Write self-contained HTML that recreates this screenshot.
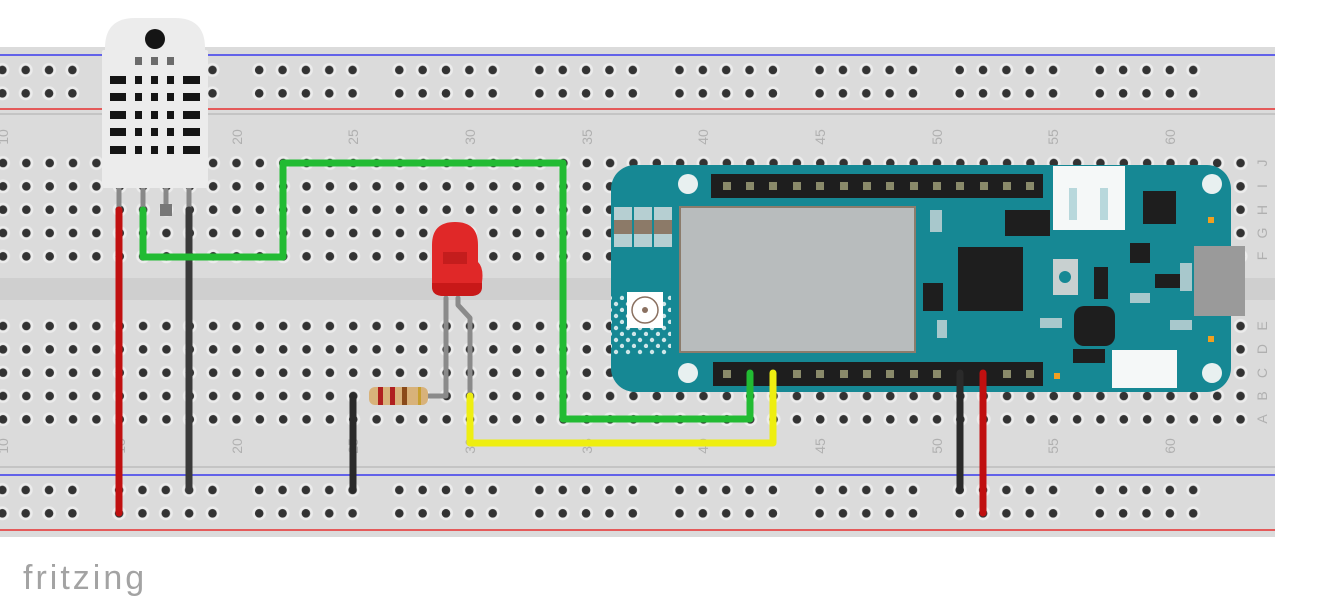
<!DOCTYPE html>
<html><head><meta charset="utf-8"><style>
html,body{margin:0;padding:0;background:#fff;width:1320px;height:604px;overflow:hidden}
svg{display:block}
text{font-family:"Liberation Sans",sans-serif}
</style></head><body>
<svg width="1320" height="604" viewBox="0 0 1320 604" xmlns="http://www.w3.org/2000/svg">
<defs>
<pattern id="mh" patternUnits="userSpaceOnUse" x="-8.675" y="151.33" width="23.35" height="23.33">
<circle cx="11.675" cy="11.67" r="7" fill="#ececec"/><circle cx="11.675" cy="11.67" r="4.3" fill="#333"/>
</pattern>
<pattern id="mh2" patternUnits="userSpaceOnUse" x="-8.675" y="314.33" width="23.35" height="23.33">
<circle cx="11.675" cy="11.67" r="7" fill="#ececec"/><circle cx="11.675" cy="11.67" r="4.3" fill="#333"/>
</pattern>
<pattern id="rh" patternUnits="userSpaceOnUse" x="-32.675" y="58.3" width="140.1" height="23.33">
<g fill="#ececec"><circle cx="11.675" cy="11.67" r="7"/><circle cx="35.025" cy="11.67" r="7"/><circle cx="58.375" cy="11.67" r="7"/><circle cx="81.725" cy="11.67" r="7"/><circle cx="105.075" cy="11.67" r="7"/></g>
<g fill="#333"><circle cx="11.675" cy="11.67" r="4.3"/><circle cx="35.025" cy="11.67" r="4.3"/><circle cx="58.375" cy="11.67" r="4.3"/><circle cx="81.725" cy="11.67" r="4.3"/><circle cx="105.075" cy="11.67" r="4.3"/></g>
</pattern>
<pattern id="rh2" patternUnits="userSpaceOnUse" x="-32.675" y="478.3" width="140.1" height="23.33">
<g fill="#ececec"><circle cx="11.675" cy="11.67" r="7"/><circle cx="35.025" cy="11.67" r="7"/><circle cx="58.375" cy="11.67" r="7"/><circle cx="81.725" cy="11.67" r="7"/><circle cx="105.075" cy="11.67" r="7"/></g>
<g fill="#333"><circle cx="11.675" cy="11.67" r="4.3"/><circle cx="35.025" cy="11.67" r="4.3"/><circle cx="58.375" cy="11.67" r="4.3"/><circle cx="81.725" cy="11.67" r="4.3"/><circle cx="105.075" cy="11.67" r="4.3"/></g>
</pattern>
<pattern id="dots" patternUnits="userSpaceOnUse" width="12" height="12"><circle cx="4" cy="4" r="2.2" fill="#cfe6e8"/><circle cx="10" cy="10" r="2.2" fill="#cfe6e8"/></pattern>
</defs>

<rect x="0" y="47" width="1275" height="490" fill="#dbdbdb"/>
<line x1="0" y1="55" x2="1275" y2="55" stroke="#3a3aee" stroke-width="1.5"/>
<line x1="0" y1="109" x2="1275" y2="109" stroke="#e83030" stroke-width="1.5"/>
<line x1="0" y1="114" x2="1275" y2="114" stroke="#bdbdbd" stroke-width="1.5"/>
<line x1="0" y1="467" x2="1275" y2="467" stroke="#bdbdbd" stroke-width="1.5"/>
<line x1="0" y1="475" x2="1275" y2="475" stroke="#3a3aee" stroke-width="1.5"/>
<line x1="0" y1="530" x2="1275" y2="530" stroke="#e83030" stroke-width="1.5"/>
<rect x="0" y="278" width="1275" height="22" fill="#cfcfcf"/>
<rect x="-20" y="151.3" width="1272" height="116.7" fill="url(#mh)"/>
<rect x="-20" y="314.3" width="1272" height="116.7" fill="url(#mh2)"/>
<rect x="-20" y="58.3" width="1224" height="46.7" fill="url(#rh)"/>
<rect x="-20" y="478.3" width="1224" height="46.7" fill="url(#rh2)"/>

<g fill="#b0b0b0" font-size="14" text-anchor="middle">
<text transform="translate(3,137) rotate(-90)" dy="5">10</text>
<text transform="translate(120,137) rotate(-90)" dy="5">15</text>
<text transform="translate(237,137) rotate(-90)" dy="5">20</text>
<text transform="translate(353,137) rotate(-90)" dy="5">25</text>
<text transform="translate(470,137) rotate(-90)" dy="5">30</text>
<text transform="translate(587,137) rotate(-90)" dy="5">35</text>
<text transform="translate(703,137) rotate(-90)" dy="5">40</text>
<text transform="translate(820,137) rotate(-90)" dy="5">45</text>
<text transform="translate(937,137) rotate(-90)" dy="5">50</text>
<text transform="translate(1053,137) rotate(-90)" dy="5">55</text>
<text transform="translate(1170,137) rotate(-90)" dy="5">60</text>
<text transform="translate(3,446) rotate(-90)" dy="5">10</text>
<text transform="translate(120,446) rotate(-90)" dy="5">15</text>
<text transform="translate(237,446) rotate(-90)" dy="5">20</text>
<text transform="translate(353,446) rotate(-90)" dy="5">25</text>
<text transform="translate(470,446) rotate(-90)" dy="5">30</text>
<text transform="translate(587,446) rotate(-90)" dy="5">35</text>
<text transform="translate(703,446) rotate(-90)" dy="5">40</text>
<text transform="translate(820,446) rotate(-90)" dy="5">45</text>
<text transform="translate(937,446) rotate(-90)" dy="5">50</text>
<text transform="translate(1053,446) rotate(-90)" dy="5">55</text>
<text transform="translate(1170,446) rotate(-90)" dy="5">60</text>
<text transform="translate(1262,163) rotate(-90)" dy="5">J</text>
<text transform="translate(1262,186) rotate(-90)" dy="5">I</text>
<text transform="translate(1262,210) rotate(-90)" dy="5">H</text>
<text transform="translate(1262,233) rotate(-90)" dy="5">G</text>
<text transform="translate(1262,256) rotate(-90)" dy="5">F</text>
<text transform="translate(1262,326) rotate(-90)" dy="5">E</text>
<text transform="translate(1262,349) rotate(-90)" dy="5">D</text>
<text transform="translate(1262,373) rotate(-90)" dy="5">C</text>
<text transform="translate(1262,396) rotate(-90)" dy="5">B</text>
<text transform="translate(1262,419) rotate(-90)" dy="5">A</text>
</g>

<rect x="611" y="165" width="620" height="227" rx="24" fill="#168894"/>
<rect x="611" y="295" width="60" height="60" fill="url(#dots)"/>
<g fill="#b6cfd2"><rect x="614" y="207" width="18" height="40"/><rect x="634" y="207" width="18" height="40"/><rect x="654" y="207" width="18" height="40"/></g>
<g fill="#8c7a68"><rect x="614" y="220" width="18" height="14"/><rect x="634" y="220" width="18" height="14"/><rect x="654" y="220" width="18" height="14"/></g>
<rect x="627" y="292" width="36" height="36" fill="#fff"/>
<circle cx="645" cy="310" r="13" fill="none" stroke="#8a7060" stroke-width="1.5"/><circle cx="645" cy="310" r="3" fill="#8a7060"/>
<g fill="#e8f0f0"><circle cx="688" cy="184" r="10"/><circle cx="688" cy="373" r="10"/><circle cx="1212" cy="184" r="10"/><circle cx="1212" cy="373" r="10"/></g>
<rect x="711" y="174" width="332" height="24" fill="#1e1e1e"/>
<rect x="713" y="362" width="330" height="24" fill="#1e1e1e"/>
<g fill="#8a8a6a">
<rect x="723" y="182" width="8" height="8"/><rect x="746" y="182" width="8" height="8"/><rect x="769" y="182" width="8" height="8"/><rect x="793" y="182" width="8" height="8"/><rect x="816" y="182" width="8" height="8"/><rect x="840" y="182" width="8" height="8"/><rect x="863" y="182" width="8" height="8"/><rect x="886" y="182" width="8" height="8"/><rect x="910" y="182" width="8" height="8"/><rect x="933" y="182" width="8" height="8"/><rect x="956" y="182" width="8" height="8"/><rect x="980" y="182" width="8" height="8"/><rect x="1003" y="182" width="8" height="8"/><rect x="1026" y="182" width="8" height="8"/>
<rect x="723" y="370" width="8" height="8"/><rect x="793" y="370" width="8" height="8"/><rect x="816" y="370" width="8" height="8"/><rect x="840" y="370" width="8" height="8"/><rect x="863" y="370" width="8" height="8"/><rect x="886" y="370" width="8" height="8"/><rect x="910" y="370" width="8" height="8"/><rect x="933" y="370" width="8" height="8"/><rect x="1003" y="370" width="8" height="8"/><rect x="1026" y="370" width="8" height="8"/>
</g>
<rect x="680" y="207" width="235" height="145" fill="#b8bcbd" stroke="#8c7c6c" stroke-width="2"/>
<rect x="958" y="247" width="65" height="64" fill="#1e1e1e"/>
<rect x="1005" y="210" width="45" height="26" fill="#1e1e1e"/>
<rect x="1143" y="191" width="33" height="33" fill="#1e1e1e"/>
<rect x="1130" y="243" width="20" height="20" fill="#1e1e1e"/>
<rect x="1155" y="274" width="25" height="14" fill="#1e1e1e"/>
<rect x="1094" y="267" width="14" height="32" fill="#1e1e1e"/>
<rect x="1074" y="306" width="41" height="40" rx="10" fill="#1e1e1e"/>
<rect x="1073" y="349" width="32" height="14" fill="#1e1e1e"/>
<rect x="923" y="283" width="20" height="28" fill="#1e1e1e"/>
<rect x="1053" y="166" width="72" height="64" fill="#f5f8f8"/>
<rect x="1069" y="188" width="8" height="32" fill="#b8d8dc"/><rect x="1100" y="188" width="8" height="32" fill="#b8d8dc"/>
<rect x="1053" y="259" width="25" height="36" fill="#c8d0d0"/><circle cx="1065" cy="277" r="6" fill="#168894"/>
<rect x="1194" y="246" width="51" height="70" fill="#9a9a9a"/>
<rect x="1112" y="350" width="65" height="38" fill="#f5f8f8"/>
<g fill="#f0a020"><rect x="1208" y="217" width="6" height="6"/><rect x="1208" y="336" width="6" height="6"/><rect x="1054" y="373" width="6" height="6"/></g>
<g fill="#a8c8cc"><rect x="930" y="210" width="12" height="22"/><rect x="937" y="320" width="10" height="18"/><rect x="1130" y="293" width="20" height="10"/><rect x="1170" y="320" width="22" height="10"/><rect x="1040" y="318" width="22" height="10"/><rect x="1180" y="263" width="12" height="28"/></g>

<path d="M105 188 V48 Q105 18 135 18 H175 Q205 18 205 48 V188 Z" fill="#ececec"/>
<rect x="102" y="50" width="106" height="138" rx="2" fill="#ececec"/>
<circle cx="155" cy="39" r="10" fill="#151515"/>
<g fill="#151515">
<rect x="135" y="57" width="7" height="8" opacity=".6"/><rect x="151" y="57" width="7" height="8" opacity=".6"/><rect x="167" y="57" width="7" height="8" opacity=".6"/>
<rect x="110" y="76" width="16" height="8"/><rect x="135" y="76" width="7" height="8"/><rect x="151" y="76" width="7" height="8"/><rect x="167" y="76" width="7" height="8"/><rect x="183" y="76" width="17" height="8"/>
<rect x="110" y="93" width="16" height="8"/><rect x="135" y="93" width="7" height="8"/><rect x="151" y="93" width="7" height="8"/><rect x="167" y="93" width="7" height="8"/><rect x="183" y="93" width="17" height="8"/>
<rect x="110" y="111" width="16" height="8"/><rect x="135" y="111" width="7" height="8"/><rect x="151" y="111" width="7" height="8"/><rect x="167" y="111" width="7" height="8"/><rect x="183" y="111" width="17" height="8"/>
<rect x="110" y="128" width="16" height="8"/><rect x="135" y="128" width="7" height="8"/><rect x="151" y="128" width="7" height="8"/><rect x="167" y="128" width="7" height="8"/><rect x="183" y="128" width="17" height="8"/>
<rect x="110" y="146" width="16" height="8"/><rect x="135" y="146" width="7" height="8"/><rect x="151" y="146" width="7" height="8"/><rect x="167" y="146" width="7" height="8"/><rect x="183" y="146" width="17" height="8"/>
</g>
<g stroke="#888" stroke-width="5"><line x1="119" y1="188" x2="119" y2="210"/><line x1="143" y1="188" x2="143" y2="210"/><line x1="166" y1="188" x2="166" y2="210"/><line x1="189" y1="188" x2="189" y2="210"/></g>
<rect x="160" y="204" width="12" height="12" fill="#777"/>

<g fill="none" stroke="#8a8a8a" stroke-width="5" stroke-linecap="round" stroke-linejoin="round">
<path d="M446 298 V396 H428"/>
<path d="M458 298 V305 L470 318 V396"/>
</g>
<rect x="369" y="387" width="59" height="18" rx="6" fill="#d8b27a"/>
<g fill="#b02020"><rect x="378" y="387" width="5" height="18"/><rect x="390" y="387" width="5" height="18"/></g>
<rect x="402" y="387" width="5" height="18" fill="#8a4a1a"/><rect x="418" y="387" width="3" height="18" fill="#c8a030"/>
<path d="M432 286 V245 Q432 222 455 222 Q478 222 478 245 V262 Q484 268 482 282 V286 Q482 296 470 296 H444 Q432 296 432 286 Z" fill="#e02828"/>
<path d="M432 283 H482 V287 Q482 296 470 296 H444 Q432 296 432 287 Z" fill="#c81818"/>
<rect x="443" y="252" width="24" height="12" fill="#b81818" opacity=".7"/>

<g fill="none" stroke-linecap="round" stroke-linejoin="round" stroke-width="7">
<path d="M119 210 V513" stroke="#c01010"/>
<path d="M189 210 V490" stroke="#3a3a3a"/>
<path d="M143 210 V257 H283 V163 H563 V419 H750 V373" stroke="#22bb33"/>
<path d="M470 396 V443 H773 V373" stroke="#eeee11"/>
<path d="M353 396 V490" stroke="#2a2a2a"/>
<path d="M960 373 V490" stroke="#2a2a2a"/>
<path d="M983 373 V513" stroke="#c01010"/>
</g>

<text x="23" y="589" font-size="34" fill="#a3a3a3" letter-spacing="3">fritzing</text>
</svg>
</body></html>
